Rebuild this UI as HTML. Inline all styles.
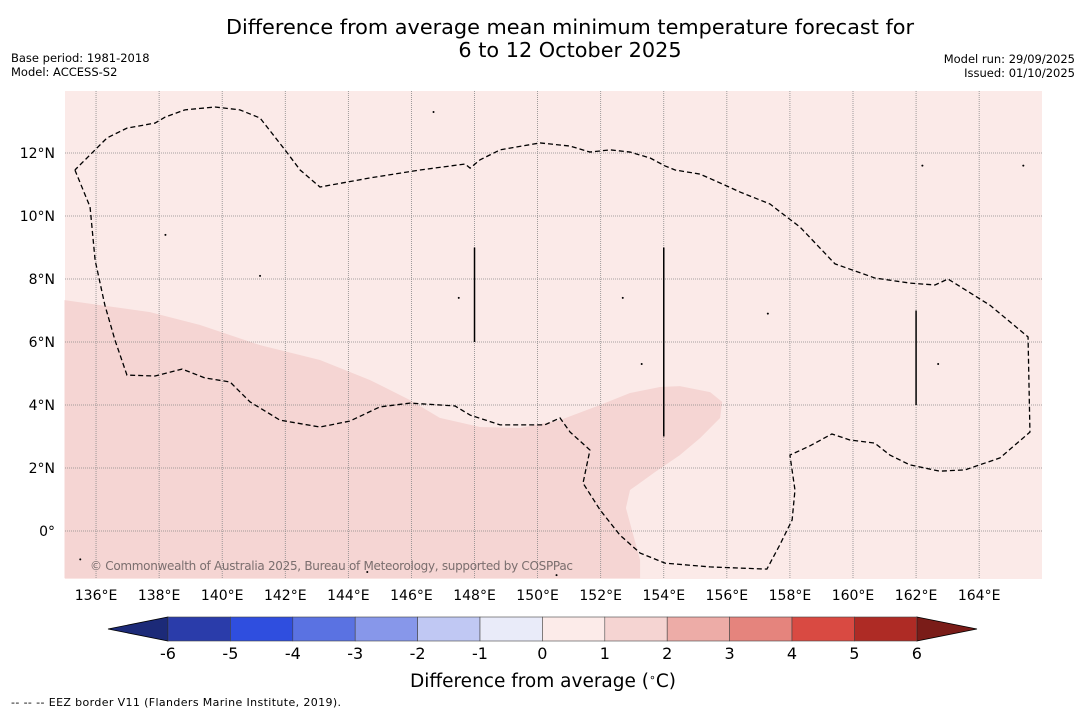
<!DOCTYPE html>
<html><head><meta charset="utf-8"><style>
body{margin:0;background:#fff;font-family:"Liberation Sans","DejaVu Sans",sans-serif}
svg{display:block}
</style></head><body>
<svg id="chart" width="1085" height="713" xmlns="http://www.w3.org/2000/svg" font-family="DejaVu Sans, Liberation Sans, sans-serif">
<text x="570" y="34" font-size="20.8" text-anchor="middle">Difference from average mean minimum temperature forecast for</text>
<text x="570" y="57" font-size="20.8" text-anchor="middle">6 to 12 October 2025</text>
<text x="11" y="62" font-size="11.5">Base period: 1981-2018</text>
<text x="11" y="76" font-size="11.5">Model: ACCESS-S2</text>
<text x="1075" y="63" font-size="11.5" text-anchor="end">Model run: 29/09/2025</text>
<text x="1075" y="77" font-size="11.5" text-anchor="end">Issued: 01/10/2025</text>
<g id="map"></g>
<g id="cbar"></g>
<text x="543" y="687" font-size="18.5" text-anchor="middle">Difference from average (<tspan baseline-shift="super" font-size="11">∘</tspan>C)</text>
<text x="11" y="706" font-size="11" textLength="330">--  --  -- EEZ border V11 (Flanders Marine Institute, 2019).</text>
</svg>
<script>
const lonTicks=[136,138,140,142,144,146,148,150,152,154,156,158,160,162,164];
const latTicks=[0,2,4,6,8,10,12];
const cbarTicks=[-6,-5,-4,-3,-2,-1,0,1,2,3,4,5,6];
const cbarColors=["#2a3caa","#2f4edf","#5a72e2","#8797ea","#c0c8f3","#e9ebf9","#fcebe9","#f5d4d2","#edaca7","#e5847d","#d94a42","#ae2b25"];
const anomalyRegion=[[135,7.33],[136.13,7.17],[137.71,6.95],[139.3,6.54],[141.2,5.9],[143.1,5.43],[144.69,4.79],[145.95,4.16],[146.9,3.59],[148.17,3.3],[149.44,3.27],[150.71,3.52],[151.98,4.0],[152.93,4.38],[153.88,4.57],[154.51,4.6],[155.47,4.41],[155.85,4.1],[155.79,3.59],[155.15,2.95],[154.51,2.41],[153.72,1.87],[152.93,1.3],[152.8,0.73],[152.99,0.03],[153.25,-0.92],[153.25,-1.5],[135,-1.5]];
const eezBorder=[[135.33,11.46],[135.81,10.29],[135.97,8.6],[136.28,7.17],[136.6,6.06],[136.98,4.95],[137.87,4.92],[138.73,5.14],[139.45,4.86],[140.25,4.73],[140.88,4.1],[141.83,3.52],[143.1,3.3],[144.05,3.49],[145.0,3.94],[145.95,4.06],[147.38,3.97],[147.86,3.68],[148.81,3.37],[150.23,3.37],[150.71,3.59],[151.03,3.14],[151.66,2.57],[151.44,1.52],[151.98,0.67],[152.61,-0.13],[153.25,-0.7],[154.04,-1.02],[155.47,-1.14],[157.27,-1.21],[157.68,-0.44],[158.07,0.35],[158.16,1.3],[158.0,2.41],[158.63,2.7],[159.33,3.08],[159.9,2.89],[160.69,2.79],[161.17,2.41],[161.8,2.1],[162.75,1.9],[163.55,1.94],[164.66,2.32],[165.61,3.14],[165.55,6.16],[164.34,7.17],[163.01,8.0],[162.6,7.81],[161.81,7.87],[160.7,8.03],[159.43,8.48],[158.32,9.65],[157.69,10.13],[157.37,10.38],[156.42,10.76],[155.94,10.98],[155.15,11.33],[154.36,11.46],[154.04,11.59],[153.57,11.84],[152.93,12.03],[152.3,12.1],[151.66,12.03],[151.03,12.22],[150.08,12.32],[148.81,12.1],[148.17,11.78],[147.86,11.52],[147.7,11.65],[146.27,11.46],[144.69,11.21],[143.1,10.92],[142.47,11.46],[141.99,12.1],[141.2,13.11],[140.56,13.37],[139.77,13.46],[138.82,13.37],[138.19,13.14],[137.87,12.95],[136.98,12.79],[136.35,12.48],[135.81,11.94],[135.33,11.46]];
const eezSegments=[[148,6,9],[154,3,9],[162,4,7]];
const islands=[[146.7,13.3],[138.2,9.4],[141.2,8.1],[152.7,7.4],[157.3,6.9],[162.7,5.3],[135.5,-0.9],[144.6,-1.3],[150.6,-1.4],[162.2,11.6],[165.4,11.6],[153.3,5.3],[147.5,7.4]];

const NS='http://www.w3.org/2000/svg';
const X0=65,X1=1042,Y0=91,Y1=579;
const x=lon=>64.5+(lon-135)*31.54;
const y=lat=>531-lat*31.5;
function mk(tag,attrs,parent){const e=document.createElementNS(NS,tag);for(const k in attrs)e.setAttribute(k,attrs[k]);parent.appendChild(e);return e;}
const map=document.getElementById('map');
const bg=mk('rect',{x:X0,y:Y0,width:X1-X0,height:Y1-Y0,fill:'#fbeae8'},map);


const reg=mk('polygon',{points:anomalyRegion.map(p=>x(p[0])+','+y(p[1])).join(' '),fill:'#f5d5d3'},map);


lonTicks.forEach(l=>{
  const g=mk('line',{x1:x(l),x2:x(l),y1:Y0,y2:Y1,stroke:'#888',"stroke-width":0.8,"stroke-dasharray":'1,1'},map);
  
  
  const t=mk('text',{x:x(l),y:600,"font-size":14,"text-anchor":'middle'},map);t.textContent=l+'°E';
  
  
});
latTicks.forEach(l=>{
  const g=mk('line',{x1:X0,x2:X1,y1:y(l),y2:y(l),stroke:'#888',"stroke-width":0.8,"stroke-dasharray":'1,1'},map);
  
  
  const t=mk('text',{x:55,y:y(l)+5,"font-size":14,"text-anchor":'end'},map);t.textContent=(l===0?'0°':l+'°N');
  
  
});
islands.forEach(p=>{
  const c=mk('circle',{cx:x(p[0]),cy:y(p[1]),r:1,fill:'#000'},map);
  
  
});
const eez=mk('polyline',{points:eezBorder.map(p=>x(p[0])+','+y(p[1])).join(' '),fill:'none',stroke:'#000',"stroke-width":1.3,"stroke-dasharray":'5,3'},map);


eezSegments.forEach(s=>{
  const l=mk('line',{x1:x(s[0]),x2:x(s[0]),y1:y(s[1]),y2:y(s[2]),stroke:'#000',"stroke-width":1.5},map);
  
  
});
const cp=mk('text',{x:90,y:570,"font-size":12,fill:'#7a6e6e',textLength:483},map);cp.textContent='© Commonwealth of Australia 2025, Bureau of Meteorology, supported by COSPPac';



const cb=document.getElementById('cbar');
const cx=v=>168+(v+6)*62.4;
const CY0=617,CY1=641;
const lt=mk('polygon',{points:`108,${(CY0+CY1)/2} ${cx(-6)},${CY0} ${cx(-6)},${CY1}`,fill:'#1c2a78',stroke:'#000',"stroke-width":0.8},cb);


const rt=mk('polygon',{points:`977,${(CY0+CY1)/2} ${cx(6)},${CY0} ${cx(6)},${CY1}`,fill:'#7a1c18',stroke:'#000',"stroke-width":0.8},cb);


cbarColors.forEach((c,i)=>{
  const v=cbarTicks[i];
  const r=mk('rect',{x:cx(v),y:CY0,width:cx(v+1)-cx(v),height:CY1-CY0,fill:c,stroke:'#444',"stroke-width":0.6},cb);
  
  
});
cbarTicks.forEach(v=>{
  const t=mk('text',{x:cx(v),y:659,"font-size":16,"text-anchor":'middle'},cb);t.textContent=v;
  
  
});
</script>
</body></html>
